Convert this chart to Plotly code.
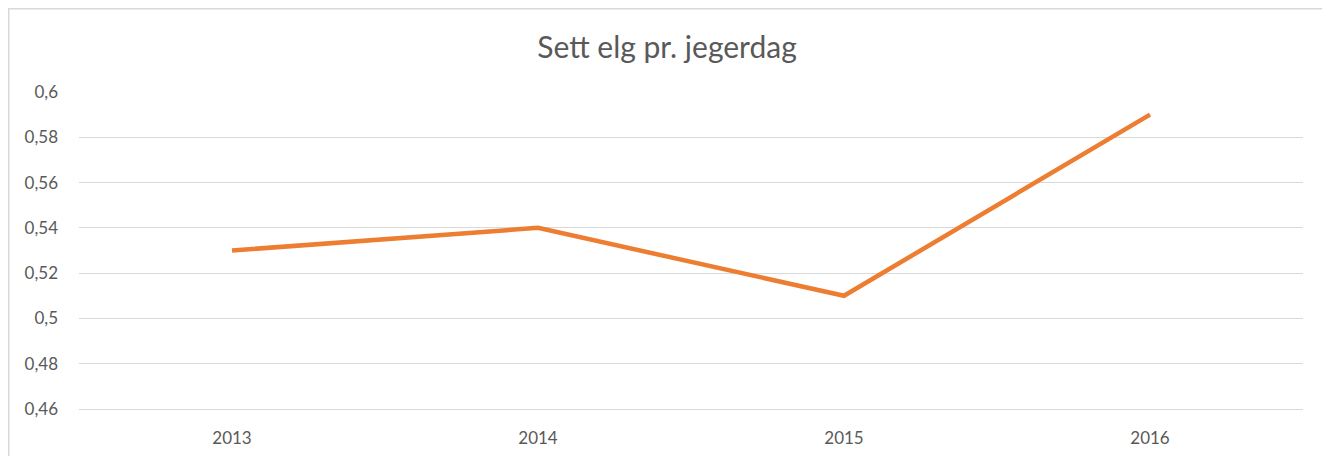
import plotly.graph_objects as go

years = ["2013", "2014", "2015", "2016"]
values = [0.53, 0.54, 0.51, 0.59]
y_ticks = [0.46, 0.48, 0.50, 0.52, 0.54, 0.56, 0.58, 0.60]
y_tick_labels = ["0,46", "0,48", "0,5", "0,52", "0,54", "0,56", "0,58", "0,6"]

W, H = 1322, 448
L, R, T, B = 71, 27, 84, 47
PW, PH = W - L - R, H - T - B

fig = go.Figure()
fig.add_trace(go.Scatter(
    x=years, y=values, mode="lines",
    line=dict(color="#ED7D31", width=4.5, shape="linear"),
    hoverinfo="skip",
))

grid = "#D9D9D9"
fig.update_layout(
    width=W, height=H,
    margin=dict(l=L, r=R, t=T, b=B, pad=0, autoexpand=False),
    paper_bgcolor="white", plot_bgcolor="white",
    showlegend=False,
    font=dict(family="Lato, Carlito, sans-serif", color="#595959", size=17),
    title=dict(text="Sett elg pr. jegerdag", x=659 / W, xref="container", xanchor="center",
               y=1 - 39 / H, yref="container", yanchor="middle",
               font=dict(size=30, color="#595959")),
    xaxis=dict(type="category", showgrid=False, zeroline=False,
               showline=True, linecolor=grid, linewidth=1,
               ticks="", ticklabelstandoff=14, automargin=False,
               range=[-0.5, 3.5], fixedrange=True),
    yaxis=dict(range=[0.46, 0.60], tickvals=y_ticks, ticktext=y_tick_labels,
               showgrid=True, gridcolor=grid, gridwidth=1,
               zeroline=False, showline=False, ticks="", automargin=False,
               ticklabelstandoff=20, fixedrange=True),
)

fig.add_shape(type="rect", xref="paper", yref="paper",
              x0=(0.75 - L) / PW, x1=(1320 - L) / PW,
              y0=-0.3, y1=(H - B - 0.75) / PH,
              line=dict(color="#D9D9D9", width=1.5), fillcolor="rgba(0,0,0,0)",
              layer="below")

fig.write_html("out.html")
